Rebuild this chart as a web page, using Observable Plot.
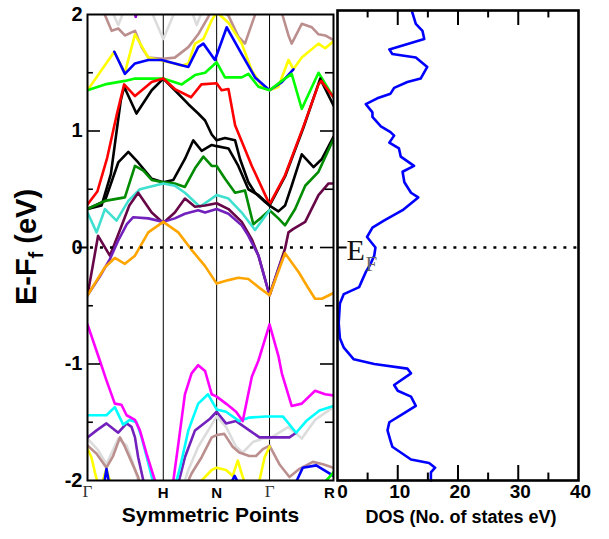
<!DOCTYPE html>
<html><head><meta charset="utf-8">
<script src="https://cdn.jsdelivr.net/npm/d3@7"></script>
<script src="https://cdn.jsdelivr.net/npm/@observablehq/plot@0.6"></script>
<style>
body{margin:0;background:#fff}
#c{position:relative;width:609px;height:539px;overflow:hidden;background:#fff;font-family:"Liberation Sans",Arial,sans-serif}
#c svg{position:absolute;top:0}
#ylab{position:absolute;left:31px;top:247px;transform:translate(-50%,-50%) rotate(-90deg);font-weight:bold;font-size:29px;line-height:30px;white-space:nowrap;color:#000}
#ylab sub{font-size:20px;vertical-align:-7px}
</style></head>
<body><div id="c"><div id="ylab">E-F<sub>f</sub> (eV)</div></div>
<script>
// ---- axis ticks / labels ----
const kTicks = [0, 0.308, 0.525, 0.740, 1];
const kLabels = ["Γ", "H", "N", "Γ", "R"];
const eMajor = [2, 1, 0, -1, -2];
const eMinor = [1.5, 0.5, -0.5, -1.5];
const dosMajor = [0, 10, 20, 30, 40];
const dosMinor = [5, 15, 25, 35];

// ---- band structure: [k, E] (null = band leaves the window) ----
const greyTop = [[0.095,2.05],[0.125,1.91],[0.152,2.05],[0.2,null],[0.255,2.05],[0.308,1.79],[0.36,2.05],[0.4,null],[0.42,2.05],[0.444,1.91],[0.47,2.05]];
const brownTop = [[0.06,2.05],[0.098,1.86],[0.125,1.88],[0.152,1.82],[0.193,1.86],[0.220,1.72],[0.247,1.63],[0.308,1.62],[0.355,1.63],[0.410,1.72],[0.450,1.83],[0.491,1.98],[0.505,2.05],[0.52,null],[0.535,2.05],[0.573,1.99],[0.613,1.81],[0.640,1.75],[0.668,1.92],[0.690,2.05],[0.75,null],[0.785,2.05],[0.817,1.82],[0.830,1.75],[0.871,1.92],[0.912,1.89],[0.939,1.83],[0.966,1.82],[1.0,1.78]];
const violetTop = [[0.188,2.05],[0.196,1.98],[0.204,2.05]];
const yellowTop = [[0,1.35],[0.109,1.68],[0.152,1.50],[0.193,1.83],[0.247,1.63],[0.308,1.60],[0.355,1.58],[0.383,1.56],[0.410,1.58],[0.437,1.75],[0.471,1.79],[0.505,1.95],[0.525,2.02],[0.573,1.93],[0.627,1.75],[0.668,1.52],[0.708,1.39],[0.740,1.35],[0.776,1.38],[0.817,1.61],[0.837,1.53],[0.871,1.63],[0.939,1.75],[0.966,1.71],[1.0,1.77]];
const blueTop = [[0.109,1.68],[0.152,1.49],[0.193,1.58],[0.247,1.61],[0.301,1.61],[0.355,1.58],[0.410,1.55],[0.450,1.72],[0.471,1.75],[0.518,1.61],[0.566,1.89],[0.627,1.66],[0.681,1.46],[0.740,1.35],[0.790,1.42],[0.837,1.53]];
const limeTop = [[0,1.35],[0.071,1.40],[0.152,1.43],[0.193,1.45],[0.308,1.45],[0.383,1.40],[0.437,1.48],[0.478,1.50],[0.525,1.59],[0.559,1.46],[0.627,1.46],[0.654,1.49],[0.695,1.38],[0.740,1.35],[0.790,1.43],[0.830,1.49],[0.871,1.19],[0.939,1.50],[1.0,1.29]];
const blackA = [[0,0.33],[0.057,0.36],[0.095,0.63],[0.135,1.26],[0.149,1.38],[0.199,1.15],[0.261,1.35],[0.308,1.45],[0.355,1.35],[0.410,1.23],[0.450,1.15],[0.478,1.09],[0.505,0.97],[0.525,0.92],[0.559,0.94],[0.600,0.92],[0.620,0.76],[0.654,0.56],[0.681,0.47],[0.722,0.39],[0.740,0.36],[0.803,0.61],[0.878,1.03],[0.946,1.45],[1.0,1.22]];
const redTop = [[0,0.37],[0.04,0.48],[0.08,0.77],[0.12,1.15],[0.149,1.40],[0.193,1.30],[0.261,1.42],[0.308,1.45],[0.355,1.36],[0.421,1.29],[0.463,1.40],[0.525,1.41],[0.545,1.35],[0.573,1.36],[0.600,1.05],[0.668,0.70],[0.740,0.37],[0.803,0.62],[0.878,1.04],[0.939,1.40],[0.950,1.43],[1.0,1.29]];
const blackB = [[0,0.33],[0.071,0.40],[0.125,0.73],[0.166,0.82],[0.206,0.73],[0.261,0.59],[0.308,0.56],[0.349,0.58],[0.396,0.76],[0.430,0.92],[0.464,0.83],[0.505,0.88],[0.525,0.87],[0.573,0.85],[0.613,0.70],[0.654,0.50],[0.695,0.45],[0.740,0.36],[0.776,0.31],[0.803,0.36],[0.830,0.53],[0.871,0.80],[0.919,0.69],[0.953,0.76],[1.0,0.95]];
const green4 = [[0,0.33],[0.071,0.40],[0.152,0.43],[0.193,0.70],[0.227,0.66],[0.261,0.58],[0.308,0.56],[0.355,0.55],[0.396,0.52],[0.437,0.68],[0.471,0.78],[0.505,0.70],[0.525,0.70],[0.559,0.59],[0.600,0.47],[0.640,0.49],[0.674,0.20],[0.708,0.26],[0.740,0.32],[0.776,0.25],[0.803,0.19],[0.844,0.33],[0.885,0.53],[0.939,0.65],[1.0,0.93]];
const turquoise = [[0,0.30],[0.037,0.13],[0.071,0.33],[0.118,0.23],[0.166,0.40],[0.213,0.50],[0.308,0.55],[0.355,0.53],[0.396,0.47],[0.457,0.35],[0.525,0.45],[0.573,0.42],[0.627,0.30],[0.681,0.15],[0.740,0.32]];
const maroon = [[0,-0.41],[0.043,0.10],[0.091,-0.07],[0.132,0.15],[0.17,0.36],[0.206,0.47],[0.261,0.30],[0.308,0.21],[0.355,0.30],[0.396,0.42],[0.437,0.35],[0.478,0.36],[0.525,0.38],[0.573,0.33],[0.627,0.22],[0.668,0.07],[0.695,-0.07],[0.740,-0.41],[0.803,-0.01],[0.817,0.13],[0.837,0.16],[0.885,0.22],[0.939,0.45],[0.980,0.55],[1.0,0.55]];
const indigoTop = [[0,-0.41],[0.05,-0.25],[0.091,-0.10],[0.125,0.06],[0.16,0.20],[0.186,0.26],[0.247,0.25],[0.308,0.22],[0.355,0.25],[0.396,0.29],[0.450,0.32],[0.478,0.30],[0.525,0.33],[0.573,0.29],[0.627,0.19],[0.654,0.10],[0.695,-0.07],[0.740,-0.41],[0.79,-0.10]];
const orange = [[0,-0.41],[0.071,-0.17],[0.111,-0.09],[0.152,-0.14],[0.193,-0.07],[0.247,0.13],[0.308,0.22],[0.369,0.13],[0.423,-0.02],[0.478,-0.16],[0.525,-0.31],[0.573,-0.28],[0.613,-0.26],[0.654,-0.27],[0.695,-0.34],[0.740,-0.41],[0.803,-0.05],[0.858,-0.21],[0.898,-0.35],[0.925,-0.44],[0.953,-0.44],[1.0,-0.39]];
const magenta = [[0,-0.66],[0.05,-0.97],[0.077,-1.14],[0.111,-1.34],[0.138,-1.35],[0.159,-1.44],[0.193,-1.48],[0.213,-1.57],[0.240,-1.77],[0.274,-2.0],[0.28,-2.05],[0.31,null],[0.345,-2.05],[0.349,-2.0],[0.369,-1.69],[0.396,-1.26],[0.423,-1.08],[0.450,-1.01],[0.478,-1.06],[0.505,-1.26],[0.525,-1.28],[0.563,-1.34],[0.604,-1.41],[0.631,-1.49],[0.668,-1.11],[0.695,-0.97],[0.740,-0.66],[0.776,-0.93],[0.790,-1.08],[0.830,-1.36],[0.871,-1.34],[0.925,-1.23],[0.966,-1.26],[1.0,-1.27]];
const cyanLow = [[0,-1.44],[0.077,-1.44],[0.111,-1.37],[0.145,-1.52],[0.172,-1.48],[0.199,-1.50],[0.220,-1.63],[0.247,-1.85],[0.265,-2.0],[0.27,-2.05],[0.31,null],[0.358,-2.05],[0.362,-2.0],[0.376,-1.89],[0.410,-1.57],[0.450,-1.34],[0.49,-1.26],[0.525,-1.39],[0.563,-1.41],[0.617,-1.49],[0.658,-1.46],[0.726,-1.45],[0.794,-1.45],[0.848,-1.59],[0.889,-1.49],[0.943,-1.40],[1.0,-1.36]];
const indigoLow = [[0,-1.63],[0.037,-1.57],[0.077,-1.51],[0.125,-1.59],[0.159,-1.51],[0.179,-1.54],[0.193,-1.63],[0.206,-1.80],[0.227,-2.0],[0.232,-2.05],[0.3,null],[0.365,-2.05],[0.376,-1.97],[0.396,-1.80],[0.437,-1.57],[0.498,-1.47],[0.525,-1.41],[0.563,-1.51],[0.604,-1.49],[0.658,-1.57],[0.699,-1.63],[0.740,-1.63],[0.821,-1.63],[0.848,-1.59]];
const greyLow = [[0,-1.64],[0.043,-1.74],[0.077,-1.86],[0.125,-1.64],[0.159,-1.70],[0.186,-1.86],[0.206,-2.0],[0.21,-2.05],[0.3,null],[0.39,-2.05],[0.396,-2.0],[0.410,-1.91],[0.450,-1.71],[0.505,-1.52],[0.525,-1.45],[0.563,-1.54],[0.604,-1.71],[0.631,-1.76],[0.672,-1.67],[0.713,-1.64],[0.740,-1.64],[0.817,-1.54],[0.871,-1.64],[0.925,-1.48],[1.0,-1.37]];
const brownLow = [[0,-1.70],[0.037,-1.77],[0.077,-1.89],[0.104,-1.79],[0.132,-1.63],[0.152,-1.71],[0.179,-1.84],[0.206,-1.97],[0.215,-2.05],[0.3,null],[0.405,-2.05],[0.410,-2.0],[0.423,-1.94],[0.464,-1.80],[0.505,-1.63],[0.525,-1.61],[0.556,-1.60],[0.590,-1.71],[0.617,-1.76],[0.658,-1.79],[0.685,-1.79],[0.713,-1.73],[0.740,-1.70],[0.780,-1.86],[0.821,-1.97],[0.862,-1.90],[0.916,-1.84],[0.957,-1.86],[1.0,-1.89]];
const yellowLow = [[0,-1.73],[0.016,-1.80],[0.030,-1.93],[0.045,-2.05],[0.05,null],[0.055,-2.05],[0.077,-1.90],[0.097,-2.05],[0.2,null],[0.455,-2.05],[0.464,-2.0],[0.505,-1.91],[0.525,-1.89],[0.563,-1.91],[0.590,-1.96],[0.611,-1.83],[0.631,-1.97],[0.645,-2.05],[0.67,null],[0.695,-2.05],[0.699,-2.0],[0.720,-1.80],[0.740,-1.71]];
const blueLow = [[0.066,-2.05],[0.077,-1.90],[0.09,-2.05],[0.2,null],[0.577,-2.05],[0.598,-1.96],[0.62,-2.05],[0.7,null],[0.84,-2.05],[0.875,-1.89],[0.930,-1.87],[1.0,-1.96]];
const limeLow = [[0.95,-2.05],[1.0,-1.93]];

// ---- density of states: [E, DOS] ----
const dos = [[2.02,12.4],[1.92,13.0],[1.86,14.1],[1.79,14.4],[1.70,8.6],[1.66,9.1],[1.63,13.0],[1.55,14.9],[1.45,13.8],[1.42,11.6],[1.37,9.4],[1.32,8.8],[1.28,6.6],[1.23,4.7],[1.16,5.8],[1.12,5.8],[1.04,7.2],[0.99,8.8],[0.96,9.4],[0.90,8.6],[0.85,10.2],[0.78,10.5],[0.70,12.7],[0.65,10.8],[0.56,11.1],[0.47,12.2],[0.43,13.4],[0.32,10.8],[0.23,7.7],[0.17,5.8],[0.09,4.9],[0.00,6.3],[-0.07,6.1],[-0.14,5.5],[-0.21,4.7],[-0.28,4.1],[-0.34,3.6],[-0.40,1.05],[-0.48,0.4],[-0.65,0.2],[-0.78,0.4],[-0.86,1.05],[-0.96,2.7],[-1.00,6.1],[-1.04,11.6],[-1.08,12.2],[-1.18,9.4],[-1.23,10.0],[-1.28,12.2],[-1.36,13.0],[-1.43,10.8],[-1.50,8.6],[-1.57,8.3],[-1.66,8.8],[-1.71,9.1],[-1.77,10.8],[-1.82,12.2],[-1.85,15.2],[-1.89,16.2],[-1.93,15.5],[-2.0,15.5]];

// ---- drawing ----
const bands = [
  [greyTop, "#dcdcdc"], [greyLow, "#dcdcdc"], [brownTop, "#bc8f8f"], [brownLow, "#bc8f8f"],
  [yellowLow, "#ffff00"], [blueLow, "#0000ff"], [limeLow, "#00ff00"],
  [indigoLow, "#7221bc"], [cyanLow, "#00ffff"],
  [yellowTop, "#ffff00"], [blueTop, "#0000ff"], [limeTop, "#00ff00"], [violetTop, "#9400d3"],
  [blackA, "#000000"], [redTop, "#ff0000"], [blackB, "#000000"], [green4, "#008b00"],
  [turquoise, "#40e0d0"], [maroon, "#670748"], [indigoTop, "#7221bc"], [orange, "#ffa500"], [magenta, "#ff00ff"]
];
const bold = {fontWeight: "bold", fontFamily: "Liberation Sans, Arial, sans-serif"};
const inner = eMajor.filter(v => Math.abs(v) === 1);
const kPts = kTicks.map((k, i) => ({k, t: kLabels[i]}));

const left = Plot.plot({
  width: 340, height: 539,
  marginLeft: 87, marginRight: 7, marginTop: 14, marginBottom: 59,
  style: {background: "none", overflow: "visible", fontFamily: "Liberation Sans, Arial, sans-serif"},
  x: {domain: [0, 1], axis: null},
  y: {domain: [-2, 2], axis: null},
  marks: [
    Plot.ruleX(kTicks.slice(1, -1), {stroke: "#000", strokeWidth: 1}),
    ...bands.map(([pts, color]) => Plot.line(pts, {x: d => d[0], y: d => d[1], stroke: color, strokeWidth: 2.6, clip: true, strokeLinejoin: "round"})),
    Plot.ruleY([0], {x1: 0.012, x2: 0.947, stroke: "#000", strokeWidth: 2.5, strokeDasharray: "3,7"}),
    Plot.ruleY(inner, {x1: 0, x2: 0.053, stroke: "#000", strokeWidth: 1.6}),
    Plot.ruleY(eMinor, {x1: 0, x2: 0.024, stroke: "#000", strokeWidth: 1.6}),
    Plot.ruleY(eMajor.slice(1, -1), {x1: 0.947, x2: 1, stroke: "#000", strokeWidth: 1.6}),
    Plot.ruleY(eMinor, {x1: 0.967, x2: 1, stroke: "#000", strokeWidth: 1.6}),
    Plot.ruleY([0], {x1: -0.041, x2: 0, stroke: "#000", strokeWidth: 2}),
    Plot.frame({stroke: "#000", strokeWidth: 2}),
    Plot.text(eMajor, {y: d => d, frameAnchor: "left", dx: -5, textAnchor: "end", text: d => String(d), fontSize: 20, ...bold}),
    Plot.text(kPts.filter(d => d.t === "Γ"), {x: "k", frameAnchor: "bottom", dy: 16, text: "t", fontSize: 17, fontFamily: "Liberation Serif, serif", fill: "#333"}),
    Plot.text(kPts.filter(d => d.t === "H" || d.t === "N"), {x: "k", frameAnchor: "bottom", dy: 17, text: "t", fontSize: 15, ...bold}),
    Plot.text(kPts.filter(d => d.t === "R"), {x: "k", frameAnchor: "bottom", dy: 17, dx: -4, text: "t", fontSize: 15, ...bold}),
    Plot.text(["Symmetric Points"], {frameAnchor: "bottom", dy: 41, text: d => d, fontSize: 21, ...bold})
  ]
});

const right = Plot.plot({
  width: 279, height: 539,
  marginLeft: 7, marginRight: 31, marginTop: 10, marginBottom: 59,
  style: {background: "none", overflow: "visible", fontFamily: "Liberation Sans, Arial, sans-serif"},
  x: {domain: [0, 40], axis: null},
  y: {domain: [-2, 2.034], axis: null},
  marks: [
    Plot.ruleY([0], {x1: 7.7, x2: 40, stroke: "#000", strokeWidth: 2.5, strokeDasharray: "3,7"}),
    Plot.ruleY([0], {x1: 0, x2: 1.6, stroke: "#000", strokeWidth: 2}),
    Plot.line(dos, {x: d => d[1], y: d => d[0], stroke: "#0000ff", strokeWidth: 2.6, strokeLinejoin: "round"}),
    Plot.ruleX(dosMajor.slice(1, -1), {y1: -2, y2: -1.871, stroke: "#000", strokeWidth: 2}),
    Plot.ruleX(dosMinor, {y1: -2, y2: -1.936, stroke: "#000", strokeWidth: 2}),
    Plot.ruleX(dosMajor.slice(1, -1), {y1: 2.034, y2: 1.905, stroke: "#000", strokeWidth: 2}),
    Plot.ruleX(dosMinor, {y1: 2.034, y2: 1.97, stroke: "#000", strokeWidth: 2}),
    Plot.frame({stroke: "#000", strokeWidth: 2.6}),
    Plot.text(["E"], {x: 0, y: 0, dx: 9, dy: 3, textAnchor: "start", text: d => d, fontSize: 30, fontFamily: "Liberation Serif, serif", fill: "#111"}),
    Plot.text(["F"], {x: 0, y: 0, dx: 28, dy: 17, textAnchor: "start", text: d => d, fontSize: 21, fontFamily: "Liberation Serif, serif", fill: "#666"}),
    Plot.text(dosMajor.slice(0, 1), {x: d => d, frameAnchor: "bottom", dy: 17, dx: 5, text: d => String(d), fontSize: 19, ...bold}),
    Plot.text(dosMajor.slice(1), {x: d => d, frameAnchor: "bottom", dy: 17, dx: 2, text: d => String(d), fontSize: 19, ...bold}),
    Plot.text(["DOS (No. of states eV)"], {frameAnchor: "bottom", dy: 42, dx: 3, text: d => d, fontSize: 18, ...bold})
  ]
});

left.style.left = "0px";
right.style.left = "330px";
const c = document.getElementById("c");
c.appendChild(left);
c.appendChild(right);
</script>
</body></html>
